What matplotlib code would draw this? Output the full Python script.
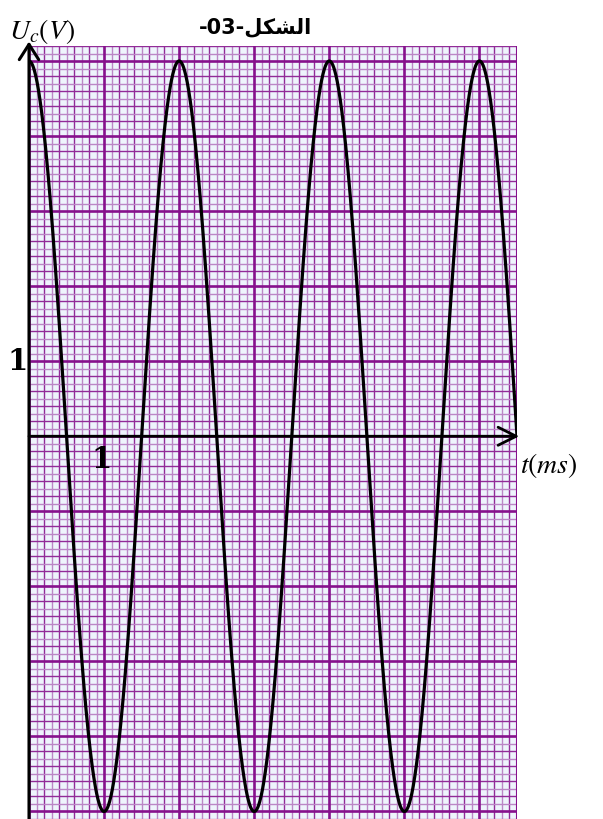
import numpy as np
import matplotlib
matplotlib.use("Agg")
import matplotlib.pyplot as plt

# ---- values ----
amplitude = 5.0        # V (peaks at +5, troughs at -5)
period = 2.0           # ms (peaks at t = 0, 2, 4, 6)
t_end = 6.5            # ms, end of drawn curve
x_label = r"$t(ms)$"
y_label = r"$U_c(V)$"
title = "-03-" + "\ufede\ufedc\ufeb8\ufedf\ufe8d"   # الشكل (pre-shaped, visual order)
x_tick_label = "1"
y_tick_label = "1"

plt.rcParams['mathtext.fontset'] = 'stix'

fig = plt.figure(figsize=(6.03, 8.2), dpi=100)
W, H = 603, 820
x0, x1, y1 = 29, 517, 47
ax = fig.add_axes([x0 / W, 0.0, (x1 - x0) / W, (H - y1) / H])
xmin, xmax = 0.0, 6.5
ymin, ymax = -5.1, 5.2
ax.set_xlim(xmin, xmax)
ax.set_ylim(ymin, ymax)
ax.set_facecolor("#eef4fc")
for s in ax.spines.values():
    s.set_visible(False)
ax.set_xticks([]); ax.set_yticks([])

dark = "#922b98"
light = "#bb86c6"
major_c = "#86118c"

# grid: minor every 0.1, alternating shade; majors every 1
for i, xv in enumerate(np.arange(0, 66) * 0.1):
    if i % 10 == 0:
        ax.axvline(xv, color=major_c, lw=1.9, zorder=2)
    else:
        ax.axvline(xv, color=dark if i % 2 == 0 else light, lw=1.0, zorder=1)
for k in range(-51, 53):
    yv = k * 0.1
    if k % 10 == 0:
        ax.axhline(yv, color=major_c, lw=1.9, zorder=2)
    else:
        ax.axhline(yv, color=dark if k % 2 == 0 else light, lw=1.0, zorder=1)
ax.axvline(xmax, color=major_c, lw=1.5, zorder=2)

# curve
t = np.linspace(0, t_end, 1500)
u = amplitude * np.cos(2 * np.pi * t / period)
ax.plot(t, u, color="black", lw=2.3, zorder=5, solid_capstyle='round')

# axes arrows
ax.annotate("", xy=(0, 5.26), xytext=(0, ymin - 0.05), xycoords='data',
            arrowprops=dict(arrowstyle="->,head_length=1.1,head_width=0.7",
                            color="black", lw=2.2, shrinkA=0, shrinkB=0),
            annotation_clip=False, zorder=6)
ax.annotate("", xy=(6.53, 0), xytext=(0, 0), xycoords='data',
            arrowprops=dict(arrowstyle="->,head_length=1.3,head_width=0.65",
                            color="black", lw=2.0, shrinkA=0, shrinkB=0),
            annotation_clip=False, zorder=6)

# labels
fig.text(9 / W, 1 - 31 / H, y_label, fontsize=20, ha='left', va='center')
fig.text(520 / W, 1 - 466 / H, x_label, fontsize=20, ha='left', va='center')
fig.text(255 / W, 1 - 27 / H, title, fontsize=15, fontweight='bold',
         ha='center', va='center', family=['DejaVu Sans'])
fig.text(18 / W, 1 - 362 / H, y_tick_label, fontsize=21, fontweight='bold',
         family='DejaVu Serif', ha='center', va='center')
fig.text(102 / W, 1 - 460 / H, x_tick_label, fontsize=21, fontweight='bold',
         family='DejaVu Serif', ha='center', va='center', zorder=10)

fig.savefig("out.png", dpi=100)
